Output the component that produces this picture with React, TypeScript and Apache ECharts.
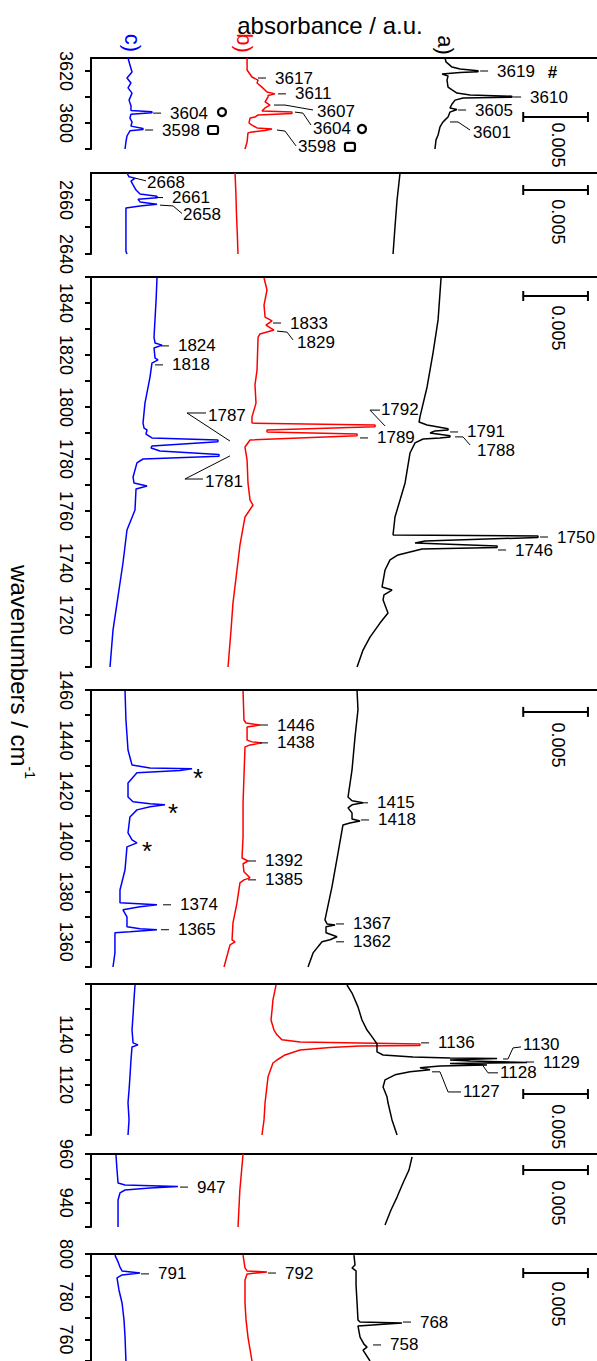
import React, { useEffect, useRef } from 'react';
import * as echarts from 'echarts';

const FONT = '"Liberation Sans", Arial, Helvetica, sans-serif';
const BLUE = '#0000ff';
const RED = '#ff0000';
const BLACK = '#000000';

// absorbance axis in units of 0.001 (mA); scale bar = 0.005
const ABS_MIN = 0;
const ABS_MAX = 39.1;
const SCALE_FROM = 33.4;
const SCALE_TO = 38.4;
const SCALE_TEXT_X = 36.1;

// panels (wavenumber ranges)
const panelTop = [58, 173, 277, 690, 984, 1154, 1254];
const panelHeight = [91, 81, 390, 277, 151, 73, 107];
const panelMin = [3590, 2640, 1700, 1350, 1100, 930, 750];
const panelMax = [3625, 2670, 1850, 1460, 1160, 960, 800];
const panelTicks = [
  [3590, 3600, 3610, 3620],
  [2640, 2650, 2660],
  [1700, 1710, 1720, 1730, 1740, 1750, 1760, 1770, 1780, 1790, 1800, 1810, 1820, 1830, 1840, 1850],
  [1350, 1360, 1370, 1380, 1390, 1400, 1410, 1420, 1430, 1440, 1450, 1460],
  [1100, 1110, 1120, 1130, 1140, 1150, 1160],
  [930, 940, 950, 960],
  [750, 760, 770, 780, 790, 800],
];
const panelLabels = [
  [3600, 3620],
  [2640, 2660],
  [1720, 1740, 1760, 1780, 1800, 1820, 1840],
  [1360, 1380, 1400, 1420, 1440, 1460],
  [1120, 1140],
  [940, 960],
  [760, 780, 800],
];
const scaleWn = [3602.3, 2663.7, 1842.7, 1451.3, 1116.3, 953.4, 791.1];
const scaleTextWn = [3591.5, 2651.9, 1830.4, 1438.2, 1103.3, 939.9, 776.6];

// spectra: [wavenumber, absorbance (mA, offset included)]
const p1Blue = [[3625, 2.86], [3622.3, 3.01], [3619.6, 3.17], [3617.3, 2.78], [3615.4, 3.09], [3613.5, 2.86], [3611.5, 3.17], [3608.8, 2.94], [3606.5, 3.09], [3604.8, 3.09], [3604.3, 4.71], [3603.9, 4.71], [3603.4, 3.09], [3601.9, 3.01], [3600.4, 3.17], [3598.8, 3.09], [3597.9, 4.02], [3597.5, 4.02], [3597.0, 3.01], [3595.0, 2.78], [3592.7, 2.70], [3590, 2.63]];
const p1Red = [[3625, 12.06], [3620.4, 12.06], [3617.7, 12.44], [3616.5, 12.91], [3615.4, 12.83], [3613.8, 13.21], [3611.9, 13.60], [3611.2, 14.22], [3610.6, 13.68], [3610, 13.68], [3608.1, 13.45], [3606.9, 13.83], [3605.8, 13.45], [3604.6, 13.21], [3604.2, 15.53], [3603.7, 15.53], [3603.1, 12.91], [3602.3, 12.67], [3601.9, 12.29], [3600, 12.21], [3599.2, 12.44], [3598.1, 12.83], [3597.7, 13.99], [3597.1, 13.45], [3596.5, 12.44], [3596.2, 12.13], [3592.7, 12.06], [3590, 11.90]];
const p1Black = [[3625, 27.36], [3623.5, 27.43], [3621.5, 27.90], [3620.8, 28.52], [3620.1, 29.91], [3619.7, 29.91], [3619.4, 28.52], [3618.8, 27.13], [3618.1, 27.59], [3616.5, 27.51], [3613.8, 27.59], [3612.7, 27.90], [3611.5, 28.28], [3610.8, 29.29], [3610.3, 32.53], [3609.9, 32.53], [3609.6, 28.75], [3608.8, 28.13], [3607.3, 27.90], [3605.8, 27.74], [3605.2, 28.28], [3604.2, 27.74], [3602.3, 27.59], [3601.2, 27.36], [3600.4, 27.20], [3598.5, 26.97], [3595.4, 26.82], [3593.5, 26.66], [3590, 26.58]];

const p2Blue = [[2670, 2.78], [2668.6, 2.94], [2668.1, 3.40], [2667, 3.09], [2665.6, 3.25], [2663.7, 3.48], [2662.2, 3.79], [2661.4, 5.10], [2660.8, 5.10], [2660.3, 3.63], [2659.3, 3.79], [2658.4, 5.10], [2657.8, 3.79], [2657, 2.70], [2649, 2.70], [2641, 2.70], [2640, 2.78]];
const p2Red = [[2670, 11.13], [2662, 11.2], [2655, 11.24], [2648, 11.3], [2640, 11.36]];
const p2Black = [[2670, 23.88], [2660, 23.65], [2650, 23.49], [2640, 23.34]];

const p3Blue = [[1849.6, 5.10], [1841.2, 5.03], [1826.9, 4.87], [1824.6, 4.95], [1823.8, 5.49], [1822.7, 4.87], [1818.8, 4.95], [1818.1, 5.18], [1816.9, 4.71], [1811.5, 4.56], [1801.5, 4.17], [1793.8, 4.02], [1791.9, 4.10], [1791.2, 4.33], [1789.6, 4.25], [1788.1, 4.71], [1787.3, 9.81], [1786.6, 9.81], [1785, 4.71], [1784.2, 4.64], [1783.1, 5.33], [1781.7, 9.89], [1781.1, 9.89], [1780, 4.02], [1778.5, 3.55], [1773.1, 3.25], [1770.8, 3.32], [1769.6, 4.33], [1768.5, 3.48], [1760.4, 3.40], [1752.7, 2.78], [1740, 2.47], [1724.6, 2.01], [1714.2, 1.70], [1700, 1.47]];
const p3Red = [[1849.6, 13.37], [1845, 13.60], [1839.2, 13.37], [1834.6, 13.45], [1833.1, 13.99], [1831.5, 13.52], [1829.6, 14.14], [1828.1, 13.06], [1826.9, 12.91], [1814.2, 12.83], [1808.5, 12.67], [1801.5, 12.75], [1796.2, 12.44], [1793.8, 12.44], [1793.1, 21.95], [1792.4, 21.95], [1791.2, 13.60], [1790.4, 13.60], [1789.6, 20.56], [1788.9, 20.56], [1787.3, 12.29], [1784.6, 11.90], [1779.6, 12.06], [1770.8, 12.13], [1764.2, 12.29], [1762.3, 12.52], [1757.7, 11.90], [1746.9, 11.51], [1737.3, 11.28], [1724.6, 10.97], [1714.2, 10.82], [1700, 10.59]];
const p3Black = [[1849.6, 27.05], [1833.5, 26.82], [1820.8, 26.43], [1807.7, 25.97], [1796.2, 25.42], [1794.2, 25.35], [1793.1, 25.97], [1791.6, 27.59], [1791.2, 27.59], [1790.8, 26.58], [1790, 26.20], [1788.9, 27.74], [1788.5, 27.74], [1788.1, 26.97], [1787.7, 25.66], [1786.2, 25.04], [1782.3, 24.65], [1770.8, 24.27], [1764.2, 23.88], [1757.7, 23.49], [1750.8, 23.34], [1750.4, 34.54], [1749.8, 34.54], [1748.5, 25.81], [1747.7, 25.04], [1746.5, 31.38], [1746.0, 31.38], [1745.4, 25.58], [1743.1, 23.72], [1741.2, 23.11], [1737.3, 22.72], [1730.8, 22.49], [1729.6, 23.26], [1727.7, 22.64], [1725.8, 22.57], [1720.8, 22.95], [1716.9, 22.33], [1711.5, 21.56], [1706.5, 21.02], [1700, 20.56]];

const p4Blue = [[1459.6, 2.63], [1448.1, 2.70], [1436.2, 2.86], [1430.2, 3.17], [1429, 4.56], [1428.7, 7.81], [1428.0, 6.88], [1427.1, 3.55], [1423.1, 2.86], [1417.5, 2.86], [1415.6, 3.25], [1414.8, 4.56], [1414.4, 5.72], [1413.6, 4.56], [1412.4, 3.55], [1409.6, 3.01], [1403.3, 2.86], [1400.5, 3.17], [1399.3, 3.55], [1397.7, 2.78], [1388.6, 2.63], [1380.6, 2.24], [1375.5, 2.24], [1374.7, 5.10], [1373.9, 3.79], [1372.7, 2.47], [1369.9, 2.78], [1366, 2.78], [1365.2, 3.79], [1364.8, 5.10], [1364, 3.01], [1363.6, 1.85], [1355.6, 1.85], [1350, 1.70]];
const p4Red = [[1459.6, 11.75], [1448.1, 11.82], [1446.9, 11.98], [1446.1, 13.06], [1445.3, 12.06], [1440.1, 12.06], [1439.4, 12.44], [1439, 13.21], [1438.2, 12.29], [1437.4, 11.90], [1415.2, 11.75], [1401.7, 11.75], [1393.3, 11.67], [1392.1, 12.13], [1391, 11.75], [1387.8, 11.82], [1386.2, 12.13], [1385.4, 12.29], [1384.6, 11.82], [1383.4, 11.51], [1375.5, 11.28], [1367.5, 10.97], [1360.8, 10.90], [1360, 11.13], [1358.8, 10.74], [1350, 10.28]];
const p4Black = [[1459.6, 20.56], [1452.1, 20.63], [1441.3, 20.40], [1428.3, 20.17], [1417.5, 19.86], [1416, 20.17], [1415.2, 21.02], [1414.4, 20.17], [1413.2, 19.86], [1411.2, 20.17], [1408.8, 20.17], [1408, 20.79], [1407.2, 20.01], [1406.4, 19.47], [1395.3, 19.09], [1381.8, 18.62], [1368.7, 18.08], [1367.1, 18.24], [1366.7, 18.86], [1366, 18.16], [1363.6, 18.16], [1362, 19.01], [1360.8, 18.47], [1360, 17.85], [1355.6, 17.16], [1350, 16.77]];

const p5Blue = [[1159.6, 3.40], [1153.7, 3.32], [1147.7, 3.25], [1141.7, 3.17], [1136.6, 3.25], [1135.8, 3.63], [1135, 3.17], [1129.8, 3.09], [1123.1, 3.01], [1117.9, 2.94], [1112.8, 2.86], [1106, 2.94], [1100, 2.86]];
const p5Red = [[1159.6, 14.30], [1153.7, 14.06], [1149.7, 13.99], [1145.7, 13.91], [1141.7, 14.14], [1139.8, 14.37], [1137.8, 14.76], [1137, 16.15], [1136.2, 25.42], [1135.6, 25.42], [1135.4, 20.79], [1134.8, 18.47], [1133.8, 16.15], [1131.8, 14.99], [1129.8, 14.37], [1128.6, 14.06], [1123.1, 13.68], [1112.8, 13.45], [1106, 13.37], [1100, 13.21]];
const p5Black = [[1159.6, 19.78], [1156.4, 20.17], [1150.9, 20.63], [1145.7, 20.94], [1141.7, 21.33], [1139, 21.72], [1136.2, 22.10], [1133, 22.10], [1131.8, 22.57], [1131, 24.88], [1130.6, 27.74], [1130.4, 31.38], [1129.8, 27.74], [1129.4, 29.29], [1128.8, 33.69], [1128.4, 27.74], [1127.8, 30.60], [1127.4, 26.97], [1126.7, 25.42], [1125.9, 26.20], [1125.1, 24.65], [1123.9, 23.49], [1121.9, 22.72], [1119.1, 22.57], [1115.2, 22.87], [1112.8, 22.95], [1106, 23.26], [1100, 23.65]];

const p6Blue = [[959.6, 1.93], [953.4, 2.01], [948.1, 2.09], [947.3, 2.63], [946.6, 6.72], [946, 4.56], [945.2, 2.63], [944, 2.24], [941.1, 2.09], [930.8, 2.09], [930, 2.09]];
const p6Red = [[960, 11.75], [945, 11.5], [930, 11.36]];
const p6Black = [[958.8, 24.81], [953.4, 24.57], [948.1, 24.11], [942.3, 23.65], [937, 23.18], [930.8, 22.72]];

const p7Blue = [[799.5, 1.85], [796.3, 2.09], [793.9, 2.24], [792.1, 2.40], [791.1, 3.79], [790.2, 2.40], [788.8, 2.01], [783.2, 2.16], [777.1, 2.40], [769.2, 2.55], [761.2, 2.63], [750, 2.70]];
const p7Red = [[799.5, 11.75], [793.5, 11.90], [792.1, 12.06], [791.6, 13.60], [790.7, 12.06], [787.9, 11.90], [777.1, 11.90], [769.2, 11.98], [761.2, 12.13], [750, 12.44]];
const p7Black = [[799.5, 20.32], [794.9, 20.40], [793.5, 20.17], [792.1, 20.48], [785.5, 20.48], [777.1, 20.56], [769.2, 20.63], [768.2, 20.79], [767.8, 24.03], [767.1, 22.33], [766.4, 20.63], [761.2, 20.79], [757.9, 21.09], [756.5, 21.33], [755.1, 21.02], [750, 21.56]];

// peak annotations: at = [wavenumber, absorbance] of the label's left/middle
const p1Notes: any[] = [
  { t: '3604', at: [3603.8, 6.11], lead: 'dash' },
  { t: '3598', at: [3597.3, 5.49], lead: 'dash' },
  { kind: 'circle', at: [3604.2, 10.12] },
  { kind: 'square', at: [3597.3, 9.43] },
  { t: '3617', at: [3617.3, 14.22], lead: 'dash' },
  { t: '3611', at: [3611.2, 15.76], lead: 'dash' },
  { t: '3607', at: [3604.6, 17.47], lead: [[3606.9, 14.14], [3606.9, 14.99], [3605.0, 17.16]] },
  { t: '3604', at: [3597.7, 17.16], lead: [[3604.2, 15.76], [3603.8, 16.38], [3599.2, 17.0]] },
  { kind: 'circle', at: [3597.7, 20.94] },
  { t: '3598', at: [3590.8, 16.0], lead: [[3597.3, 14.37], [3596.9, 14.99], [3591.2, 15.84]] },
  { kind: 'square', at: [3590.8, 20.01] },
  { t: '3619', at: [3620, 31.38], lead: 'dash' },
  { kind: 'hash', at: [3619.6, 35.3] },
  { t: '3610', at: [3610, 33.93], lead: 'dash' },
  { t: '3605', at: [3605, 29.68], lead: 'dash' },
  { t: '3601', at: [3596.5, 29.52], lead: [[3600.4, 27.74], [3600.4, 28.36], [3597.3, 29.29]] },
];
const p2Notes: any[] = [
  { t: '2668', at: [2666.5, 4.33], lead: [[2668.1, 3.4], [2667.1, 4.25]] },
  { t: '2661', at: [2660.9, 6.26], lead: 'dash' },
  { t: '2658', at: [2654.6, 7.11], lead: [[2658.1, 5.33], [2657.8, 6.34], [2655.0, 7.03]] },
];
const p3Notes: any[] = [
  { t: '1824', at: [1823.5, 6.72], lead: 'dash' },
  { t: '1818', at: [1816.2, 6.26], lead: 'dash' },
  { t: '1787', at: [1796.9, 9.04], lead: [[1786.9, 10.74], [1797.7, 7.42], [1797.7, 8.89]] },
  { t: '1781', at: [1771.2, 8.81], lead: [[1781.2, 10.74], [1772.3, 7.26], [1772.3, 8.65]] },
  { t: '1833', at: [1832.3, 15.38], lead: 'dash' },
  { t: '1829', at: [1825, 15.92], lead: [[1829.2, 14.37], [1828.8, 15.15], [1825.8, 15.61]] },
  { t: '1792', at: [1799.2, 22.4], lead: [[1792.7, 22.72], [1798.8, 21.56], [1798.8, 22.33]] },
  { t: '1789', at: [1788.1, 22.1], lead: 'dash' },
  { t: '1791', at: [1790.4, 29.06], lead: 'dash' },
  { t: '1788', at: [1783.1, 29.83], lead: [[1788.5, 28.13], [1788.5, 28.75], [1785.4, 29.29]] },
  { t: '1750', at: [1750, 36.01], lead: 'dash' },
  { t: '1746', at: [1745, 32.77], lead: 'dash' },
];
const p4Notes: any[] = [
  { kind: 'star', at: [1425.1, 8.27] },
  { kind: 'star', at: [1411.2, 6.34] },
  { kind: 'star', at: [1396.1, 4.33] },
  { t: '1374', at: [1374.7, 6.88], lead: 'dash' },
  { t: '1365', at: [1364.8, 6.72], lead: 'dash' },
  { t: '1446', at: [1446.1, 14.37], lead: 'dash' },
  { t: '1438', at: [1439, 14.37], lead: 'dash' },
  { t: '1392', at: [1392.1, 13.45], lead: 'dash' },
  { t: '1385', at: [1384.6, 13.45], lead: 'dash' },
  { t: '1415', at: [1415.2, 22.1], lead: 'dash' },
  { t: '1418', at: [1408.4, 22.18], lead: 'dash' },
  { t: '1367', at: [1367.1, 20.25], lead: 'dash' },
  { t: '1362', at: [1360, 20.25], lead: 'dash' },
];
const p5Notes: any[] = [
  { t: '1136', at: [1136.6, 26.82], lead: 'dash' },
  { t: '1130', at: [1135.8, 33.38], lead: [[1130.2, 31.84], [1130.2, 32.22], [1134.6, 32.61], [1135, 33.23]] },
  { t: '1129', at: [1129, 34.93], lead: 'dash' },
  { t: '1128', at: [1124.7, 31.61], lead: [[1127.5, 30.29], [1124.7, 30.68], [1124.7, 31.45]] },
  { t: '1127', at: [1117.1, 28.75], lead: [[1125.1, 26.35], [1125.1, 26.97], [1117.1, 27.59], [1117.1, 28.59]] },
];
const p6Notes: any[] = [{ t: '947', at: [946.4, 8.19], lead: 'dash' }];
const p7Notes: any[] = [
  { t: '791', at: [790.7, 5.18], lead: 'dash' },
  { t: '792', at: [791.1, 14.99], lead: 'dash' },
  { t: '768', at: [768.2, 25.42], lead: 'dash' },
  { t: '758', at: [757.5, 23.11], lead: 'dash' },
];

const traces = [
  [p1Blue, p1Red, p1Black],
  [p2Blue, p2Red, p2Black],
  [p3Blue, p3Red, p3Black],
  [p4Blue, p4Red, p4Black],
  [p5Blue, p5Red, p5Black],
  [p6Blue, p6Red, p6Black],
  [p7Blue, p7Red, p7Black],
];
const notes = [p1Notes, p2Notes, p3Notes, p4Notes, p5Notes, p6Notes, p7Notes];
const traceColors = [BLUE, RED, BLACK];

function notesSeries(i: number) {
  const list = notes[i];
  return {
    type: 'custom',
    xAxisIndex: i,
    yAxisIndex: i,
    silent: true,
    z: 5,
    clip: false,
    data: list.map((n) => [n.at[1], n.at[0]]),
    renderItem: (params: any, api: any) => {
      const n = list[params.dataIndex];
      const [tx, ty] = api.coord([n.at[1], n.at[0]]);
      const kids: any[] = [];
      if (n.kind === 'circle') {
        kids.push({ type: 'circle', shape: { cx: tx, cy: ty, r: 4 }, style: { stroke: '#000', fill: 'none', lineWidth: 2.2 } });
      } else if (n.kind === 'square') {
        kids.push({ type: 'rect', shape: { x: tx - 5, y: ty - 4, width: 10, height: 8, r: 2 }, style: { stroke: '#000', fill: 'none', lineWidth: 2.2 } });
      } else if (n.kind === 'star') {
        kids.push({ type: 'text', x: tx, y: ty, style: { text: '*', fontSize: 26, fontFamily: FONT, fill: '#000', align: 'center', verticalAlign: 'middle' } });
      } else if (n.kind === 'hash') {
        kids.push({ type: 'text', x: tx, y: ty, style: { text: '#', fontSize: 17, fontWeight: 'bold', fontFamily: FONT, fill: '#000', align: 'left', verticalAlign: 'middle' } });
      } else {
        if (n.lead === 'dash') {
          kids.push({ type: 'line', shape: { x1: tx - 17, y1: ty, x2: tx - 9, y2: ty }, style: { stroke: '#000', lineWidth: 1 } });
        } else if (Array.isArray(n.lead)) {
          kids.push({
            type: 'polyline',
            shape: { points: n.lead.map((p: number[]) => api.coord([p[1], p[0]])) },
            style: { stroke: '#000', fill: 'none', lineWidth: 1 },
          });
        }
        kids.push({ type: 'text', x: tx, y: ty, style: { text: n.t, fontSize: 17, fontFamily: FONT, fill: '#000', align: 'left', verticalAlign: 'middle' } });
      }
      return { type: 'group', children: kids };
    },
  };
}

function scaleSeries(i: number) {
  return {
    type: 'custom',
    xAxisIndex: i,
    yAxisIndex: i,
    silent: true,
    z: 5,
    clip: false,
    data: [[SCALE_FROM, scaleWn[i]]],
    renderItem: (params: any, api: any) => {
      const p0 = api.coord([SCALE_FROM, scaleWn[i]]);
      const p1 = api.coord([SCALE_TO, scaleWn[i]]);
      const pt = api.coord([SCALE_TEXT_X, scaleTextWn[i]]);
      const st = { stroke: '#000', lineWidth: 2 };
      return {
        type: 'group',
        children: [
          { type: 'line', shape: { x1: p0[0], y1: p0[1], x2: p1[0], y2: p1[1] }, style: st },
          { type: 'line', shape: { x1: p0[0], y1: p0[1] - 5, x2: p0[0], y2: p0[1] + 5 }, style: st },
          { type: 'line', shape: { x1: p1[0], y1: p1[1] - 5, x2: p1[0], y2: p1[1] + 5 }, style: st },
          {
            type: 'text',
            x: pt[0],
            y: pt[1],
            rotation: -Math.PI / 2,
            style: { text: '0.005', fontSize: 18, fontFamily: FONT, fill: '#000', align: 'center', verticalAlign: 'middle' },
          },
        ],
      };
    },
  };
}

function buildOption() {
  const grid: any[] = [];
  const xAxis: any[] = [];
  const yAxis: any[] = [];
  const series: any[] = [];
  for (let i = 0; i < panelTop.length; i++) {
    grid.push({ left: 91, right: 0, top: panelTop[i], height: panelHeight[i], containLabel: false, outerBoundsMode: 'none' });
    xAxis.push({
      type: 'value',
      gridIndex: i,
      min: ABS_MIN,
      max: ABS_MAX,
      position: 'top',
      axisLine: { show: true, onZero: false, lineStyle: { color: '#000', width: 2 } },
      axisTick: { show: false },
      axisLabel: { show: false },
      splitLine: { show: false },
    });
    yAxis.push({
      type: 'value',
      gridIndex: i,
      min: panelMin[i],
      max: panelMax[i],
      position: 'left',
      axisLine: { show: true, onZero: false, lineStyle: { color: '#000', width: 2 } },
      axisTick: { show: true, length: 6, lineStyle: { color: '#000', width: 2 }, customValues: panelTicks[i] },
      axisLabel: {
        customValues: panelLabels[i],
        formatter: (v: number) => String(v),
        rotate: -90,
        margin: 16,
        color: '#000',
        fontSize: 18,
        fontFamily: FONT,
      },
      splitLine: { show: false },
    });
    traces[i].forEach((tr, k) => {
      series.push({
        type: 'line',
        xAxisIndex: i,
        yAxisIndex: i,
        data: tr.map(([w, a]) => [a, w]),
        symbol: 'none',
        showSymbol: false,
        silent: true,
        lineStyle: { color: traceColors[k], width: 1.5 },
        itemStyle: { color: traceColors[k] },
        emphasis: { disabled: true },
        z: 2 + k * 0.1,
      });
    });
    series.push(notesSeries(i));
    series.push(scaleSeries(i));
  }
  return {
    animation: false,
    backgroundColor: '#ffffff',
    grid,
    xAxis,
    yAxis,
    series,
    graphic: [
      { type: 'text', x: 330, y: 25, style: { text: 'absorbance / a.u.', fontSize: 24, fontFamily: FONT, fill: '#000', align: 'center', verticalAlign: 'middle' } },
      {
        type: 'text',
        x: 22,
        y: 672,
        rotation: -Math.PI / 2,
        style: {
          text: '{m|wavenumbers / cm}{s|-1}',
          align: 'center',
          verticalAlign: 'middle',
          rich: {
            m: { fontSize: 24, fontFamily: FONT, fill: '#000', lineHeight: 30, verticalAlign: 'bottom' },
            s: { fontSize: 14, fontFamily: FONT, fill: '#000', lineHeight: 18, verticalAlign: 'top' },
          },
        },
      },
      { type: 'text', x: 132, y: 43, rotation: -Math.PI / 2, style: { text: 'c)', fontSize: 22, fontFamily: FONT, fill: BLUE, align: 'center', verticalAlign: 'middle' } },
      { type: 'text', x: 244, y: 43, rotation: -Math.PI / 2, style: { text: 'b)', fontSize: 22, fontFamily: FONT, fill: RED, align: 'center', verticalAlign: 'middle' } },
      { type: 'text', x: 445, y: 45, rotation: -Math.PI / 2, style: { text: 'a)', fontSize: 22, fontFamily: FONT, fill: BLACK, align: 'center', verticalAlign: 'middle' } },
    ],
  };
}

export default function App() {
  const ref = useRef<HTMLDivElement>(null);
  useEffect(() => {
    const chart = echarts.init(ref.current as HTMLDivElement, null, { renderer: 'svg' });
    chart.setOption(buildOption() as any);
    return () => chart.dispose();
  }, []);
  return <div ref={ref} style={{ position: 'absolute', left: 0, top: 0, width: 597, height: 1361, background: '#fff' }} />;
}
